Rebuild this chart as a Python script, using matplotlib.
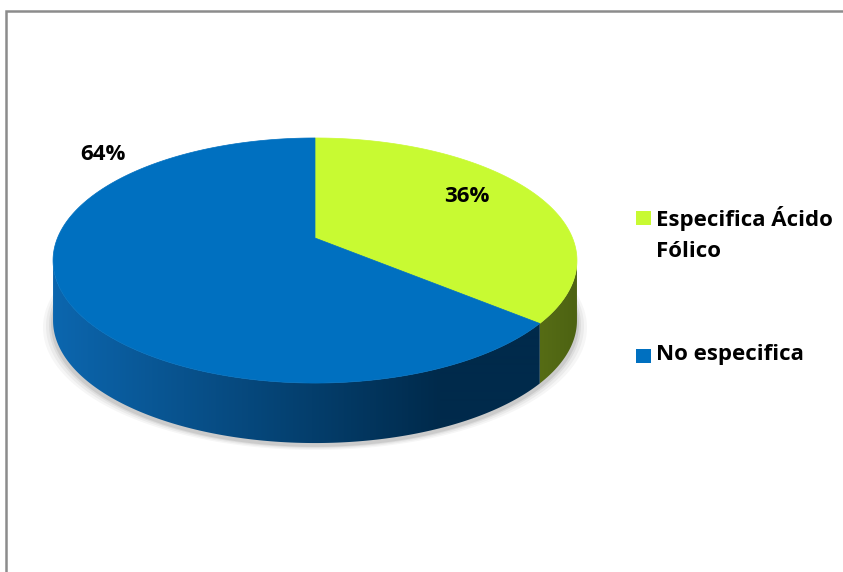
import numpy as np
import matplotlib
matplotlib.use("Agg")
import matplotlib.pyplot as plt
from matplotlib.patches import Polygon, Rectangle
from matplotlib.colors import to_rgb

categories = ["Especifica Ácido\nFólico", "No especifica"]
values = [36, 64]
labels = ["36%", "64%"]
top_colors = ["#C8FA32", "#0070C0"]

W, H = 843, 572
fig = plt.figure(figsize=(W / 100, H / 100), dpi=100)
ax = fig.add_axes([0, 0, 1, 1])
ax.set_xlim(0, W)
ax.set_ylim(H, 0)
ax.axis("off")

# outer frame (extends beyond right/bottom edges)
ax.plot([5.5, 5.5, W + 5], [H + 5, 10.5, 10.5], color="#8c8c8c", lw=1.8, zorder=1,
        solid_joinstyle="miter")

# perspective homography for the pie's top face
cx, cy = 315.0, 238.0
k, e, a = 0.1837, 118.4, 257.5
depth = 60.0


def proj(theta):
    u = np.sin(theta)
    v = np.cos(theta)
    d = 1 + k * v
    return cx + a * u / d, cy - e * v / d


fr = np.array(values, dtype=float) / sum(values)
bounds = np.concatenate([[0], np.cumsum(fr)]) * 2 * np.pi

# soft shadow below
for grow, alpha in [(10, 0.035), (7, 0.045), (4, 0.06), (2, 0.08)]:
    x, y = proj(np.linspace(0, 2 * np.pi, 300))
    ax.add_patch(Polygon(np.column_stack([cx + (x - cx) * (1 + grow / 260), y + depth + 3 + grow * 0.4]),
                         closed=True, fc="black", ec="none", alpha=alpha, zorder=2))

# walls with horizontal gradient (clipped images)
blue_l = np.array(to_rgb("#0C66AE"))
blue_d = np.array(to_rgb("#002A4B"))
green_w = np.array(to_rgb("#566C15"))
green_w2 = np.array(to_rgb("#4C6212"))

xs_grid = np.arange(0, W + 1)


def grad(idx):
    if idx == 1:
        t = np.clip((xs_grid - 55) / (440 - 55), 0, 1)
        c = blue_l[None, :] * (1 - t[:, None]) + blue_d[None, :] * t[:, None]
    else:
        t = np.clip((xs_grid - 540) / 40, 0, 1)
        c = green_w[None, :] * (1 - t[:, None]) + green_w2[None, :] * t[:, None]
    return c[None, :, :]


th_r = np.arccos(-k)
th_l = 2 * np.pi - th_r
for idx in range(len(values)):
    t0, t1 = bounds[idx], bounds[idx + 1]
    lo, hi = max(t0, th_r), min(t1, th_l)
    if hi <= lo:
        continue
    ts = np.linspace(lo, hi, 300)
    x, y = proj(ts)
    poly = np.column_stack([np.r_[x, x[::-1]], np.r_[y, y[::-1] + depth]])
    patch = Polygon(poly, closed=True, fc="none", ec="none", zorder=3)
    ax.add_patch(patch)
    im = ax.imshow(grad(idx), extent=(0, W + 1, 0, H), origin="upper", aspect="auto",
                   interpolation="bilinear", zorder=3)
    im.set_clip_path(patch)

ax.set_xlim(0, W)
ax.set_ylim(H, 0)

# top faces
for idx in range(len(values)):
    x, y = proj(np.linspace(bounds[idx], bounds[idx + 1], 300))
    pts = np.column_stack([np.r_[cx, x], np.r_[cy, y]])
    ax.add_patch(Polygon(pts, closed=True, fc=top_colors[idx], ec=top_colors[idx], lw=0.5, zorder=5))

font = "Open Sans"
fs = 16
ax.text(467, 196, labels[0], fontsize=fs, fontweight="bold", family=font,
        ha="center", va="center", color="black", zorder=6)
ax.text(103, 154, labels[1], fontsize=fs, fontweight="bold", family=font,
        ha="center", va="center", color="black", zorder=6)

# legend
leg_y = [218, 356]
for col, lab, ly in zip(top_colors, categories, leg_y):
    ax.add_patch(Rectangle((636, ly - 7), 15, 14, fc=col, ec="none", zorder=6))
    ax.text(656, ly - 12, lab, fontsize=fs, fontweight="bold", family=font,
            ha="left", va="top", color="black", linespacing=1.6, zorder=6)

fig.savefig("out.png", dpi=100)
